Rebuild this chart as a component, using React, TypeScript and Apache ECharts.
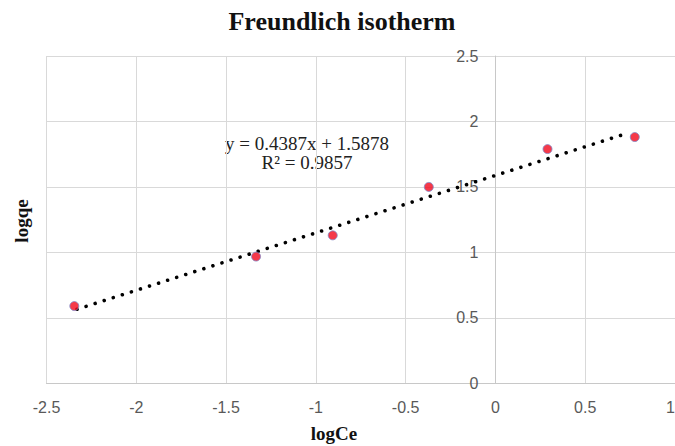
import React, { useEffect, useRef } from "react";
import * as echarts from "echarts";

const logCe = [-2.345, -1.333, -0.906, -0.371, 0.29, 0.776];
const logqe = [0.59, 0.968, 1.13, 1.5, 1.789, 1.881];
const trendX = [-2.33, 0.745];
const slope = 0.4387;
const intercept = 1.5878;
const equationLines = ["y = 0.4387x + 1.5878", "R² = 0.9857"];
const titleText = "Freundlich isotherm";
const xName = "logCe";
const yName = "logqe";

const X_MIN = -2.5;
const X_MAX = 1;
const GRID_LEFT = 46.5;
const GRID_RIGHT = 0;
const WIDTH = 675;

export default function App() {
  const ref = useRef<HTMLDivElement>(null);
  useEffect(() => {
    document.body.style.margin = "0";
    const chart = echarts.init(ref.current!, null, { renderer: "svg" });
    const points = logCe.map((x, i) => [x, logqe[i]]);
    const trend = trendX.map((x) => [x, slope * x + intercept]);
    const serif = "'Liberation Serif', 'DejaVu Serif', serif";
    const plotW = WIDTH - GRID_LEFT - GRID_RIGHT;
    const zeroOffset = ((0 - X_MIN) / (X_MAX - X_MIN)) * plotW;
    chart.setOption({
      animation: false,
      backgroundColor: "#ffffff",
      grid: { left: GRID_LEFT, right: GRID_RIGHT, top: 56, bottom: 62.7, outerBoundsMode: "none", containLabel: false },
      xAxis: {
        type: "value",
        min: X_MIN,
        max: X_MAX,
        interval: 0.5,
        axisLine: { show: true, onZero: false, lineStyle: { color: "#c8c8c8", width: 1 } },
        axisTick: { show: false },
        axisLabel: {
          color: "#595959",
          fontSize: 16,
          fontFamily: "'Liberation Sans', Arial, sans-serif",
          margin: 16,
          alignMaxLabel: "right",
        },
        splitLine: { show: true, lineStyle: { color: "#d9d9d9", width: 1 } },
      },
      yAxis: {
        type: "value",
        min: 0,
        max: 2.5,
        interval: 0.5,
        position: "left",
        offset: -zeroOffset,
        axisLine: { show: true, onZero: false, lineStyle: { color: "#c8c8c8", width: 1 } },
        axisTick: { show: false },
        axisLabel: {
          color: "#595959",
          fontSize: 16,
          fontFamily: "'Liberation Sans', Arial, sans-serif",
          margin: 17,
        },
        splitLine: { show: true, lineStyle: { color: "#d9d9d9", width: 1 } },
      },
      series: [
        {
          type: "line",
          data: trend,
          showSymbol: false,
          symbol: "none",
          lineStyle: { color: "#000000", width: 3.6, type: [0.01, 9.5], cap: "round" },
          z: 3,
        },
        {
          type: "scatter",
          data: points,
          symbol: "circle",
          symbolSize: 9,
          itemStyle: { color: "#f2071c", borderColor: "#8088c8", borderWidth: 1 },
          z: 4,
        },
      ],
      graphic: [
        {
          type: "text",
          x: 342,
          y: 21,
          style: {
            text: titleText,
            font: "bold 26px " + serif,
            fill: "#111111",
            align: "center",
            verticalAlign: "middle",
          },
        },
        {
          type: "text",
          x: 334,
          y: 433,
          style: {
            text: xName,
            font: "bold 19px " + serif,
            fill: "#111111",
            align: "center",
            verticalAlign: "middle",
          },
        },
        {
          type: "text",
          x: 21,
          y: 221,
          rotation: Math.PI / 2,
          style: {
            text: yName,
            font: "bold 19px " + serif,
            fill: "#111111",
            align: "center",
            verticalAlign: "middle",
          },
        },
        {
          type: "text",
          x: 307,
          y: 143,
          style: {
            text: equationLines[0],
            font: "19px " + serif,
            fill: "#222222",
            align: "center",
            verticalAlign: "middle",
          },
        },
        {
          type: "text",
          x: 307,
          y: 162,
          style: {
            text: equationLines[1],
            font: "19px " + serif,
            fill: "#222222",
            align: "center",
            verticalAlign: "middle",
          },
        },
      ],
    });
    return () => chart.dispose();
  }, []);
  return <div ref={ref} style={{ width: 675, height: 446 }} />;
}
